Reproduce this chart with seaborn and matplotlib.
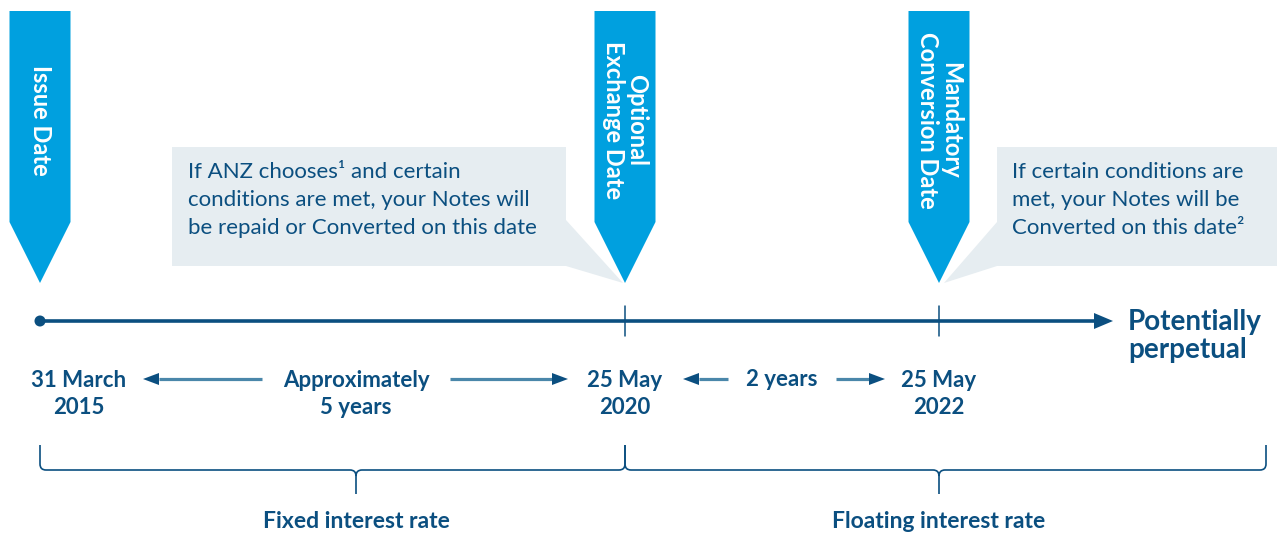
import matplotlib
matplotlib.use("Agg")
import matplotlib.pyplot as plt
import seaborn as sns
from matplotlib.patches import Polygon, Circle, PathPatch
from matplotlib.path import Path

sns.set_theme(style="white")
plt.rcParams['font.family'] = ['Lato', 'DejaVu Sans']

# ---- data ----
events = ["Issue Date", "Optional\nExchange Date", "Mandatory\nConversion Date"]
dates = ["31 March\n2015", "25 May\n2020", "25 May\n2022"]
intervals = ["Approximately\n5 years", "2 years"]
periods = ["Fixed interest rate", "Floating interest rate"]
callouts = [
    "If ANZ chooses¹ and certain\nconditions are met, your Notes will\nbe repaid or Converted on this date",
    "If certain conditions are\nmet, your Notes will be\nConverted on this date²",
]
end_label = "Potentially\nperpetual"

# ---- layout (pixel space) ----
W, H = 1277, 533
event_x = [40, 625, 939]
date_x = [79, 625, 939]
interval_x = [356, 782]
period_x = [356, 939]
callout_x = [188, 1012]
line_y = 321

BLUE = "#00A0DF"
DARK = "#0B4F80"
MID = "#4A87AA"
BOX = "#E6EDF1"

fig = plt.figure(figsize=(W / 100, H / 100), dpi=100)
ax = fig.add_axes([0, 0, 1, 1])
ax.set_xlim(0, W)
ax.set_ylim(H, 0)
ax.axis("off")

# callout boxes
ax.add_patch(Polygon([(172, 147), (566, 147), (566, 220), (623, 283), (566, 266), (172, 266)],
                     closed=True, fc=BOX, ec="none", zorder=1))
ax.add_patch(Polygon([(997, 147), (1277, 147), (1277, 266), (997, 266), (944, 283), (997, 222)],
                     closed=True, fc=BOX, ec="none", zorder=1))
for x, txt in zip(callout_x, callouts):
    ax.text(x, 200, txt, color=DARK, fontsize=16, ha="left", va="center",
            linespacing=1.5, zorder=3)

# event pointers
halfw = 30.5
for x, lab in zip(event_x, events):
    ax.add_patch(Polygon([(x - halfw, 11), (x + halfw, 11), (x + halfw, 222), (x, 283), (x - halfw, 222)],
                         closed=True, fc=BLUE, ec="none", zorder=2))
    ax.text(x, 120, lab, color="white", fontsize=17, fontweight="bold", rotation=-90,
            ha="center", va="center", multialignment="center", linespacing=1.05, zorder=4)

# main timeline
ax.plot([40, 1097], [line_y, line_y], color=DARK, lw=2.6, solid_capstyle="butt", zorder=3)
ax.add_patch(Circle((40, line_y), 5.5, fc=DARK, ec="none", zorder=4))
ax.add_patch(Polygon([(1094, line_y - 8), (1113, line_y), (1094, line_y + 8)], closed=True,
                     fc=DARK, ec="none", zorder=4))
for x in event_x[1:]:
    ax.plot([x, x], [306, 336], color=DARK, lw=1.1, zorder=3)
ax.text(1128, 336, end_label, color=DARK, fontsize=20, fontweight="bold",
        ha="left", va="center", linespacing=1.05)

# dates
for x, lab in zip(date_x, dates):
    ax.text(x, 394, lab, color=DARK, fontsize=16, fontweight="bold", ha="center",
            va="center", linespacing=1.3)
ax.text(interval_x[0], 394, intervals[0], color=DARK, fontsize=16, fontweight="bold",
        ha="center", va="center", linespacing=1.3)
ax.text(interval_x[1], 380, intervals[1], color=DARK, fontsize=16, fontweight="bold",
        ha="center", va="center")


def harrow(x_start, x_tip, y):
    d = 1 if x_tip > x_start else -1
    base = x_tip - d * 16
    ax.plot([x_start, base], [y, y], color=MID, lw=2.3, solid_capstyle="butt", zorder=3)
    ax.add_patch(Polygon([(base, y - 6), (x_tip, y), (base, y + 6)], closed=True,
                         fc=DARK, ec="none", zorder=4))


harrow(262, 143, 379)
harrow(450, 568, 379)
harrow(728, 683, 379)
harrow(836, 885, 379)


# braces
def brace(x0, x1, xc, y0=445, yl=470, yb=494, r=6):
    verts = [(x0, y0), (x0, yl - r), (x0, yl), (x0 + r, yl), (xc - r, yl), (xc, yl), (xc, yl + r),
             (xc, yb),
             (x1, y0), (x1, yl - r), (x1, yl), (x1 - r, yl), (xc + r, yl), (xc, yl), (xc, yl + r)]
    codes = [Path.MOVETO, Path.LINETO, Path.CURVE3, Path.CURVE3, Path.LINETO, Path.CURVE3, Path.CURVE3,
             Path.LINETO,
             Path.MOVETO, Path.LINETO, Path.CURVE3, Path.CURVE3, Path.LINETO, Path.CURVE3, Path.CURVE3]
    ax.add_patch(PathPatch(Path(verts, codes), fc="none", ec=DARK, lw=1.2, zorder=3))


brace(40, 625, period_x[0])
brace(625, 1266, period_x[1])
for x, lab in zip(period_x, periods):
    ax.text(x, 521, lab, color=DARK, fontsize=16.5, fontweight="bold", ha="center", va="center")

fig.savefig("out.png", dpi=100, facecolor="white")
